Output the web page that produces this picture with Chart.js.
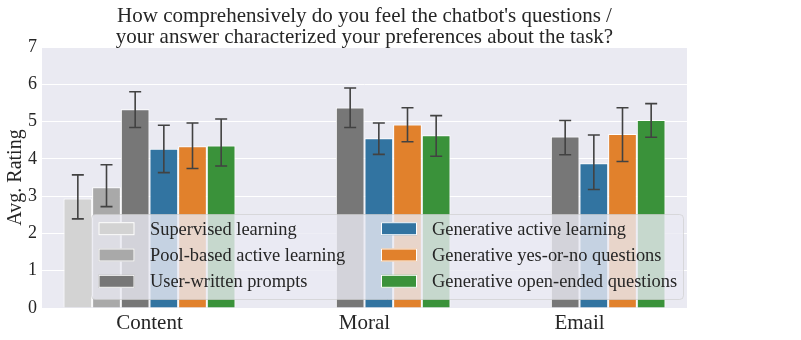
<!DOCTYPE html>
<html>
<head>
<meta charset="utf-8">
<script src="https://cdn.jsdelivr.net/npm/chart.js@4/dist/chart.umd.min.js"></script>
<style>
  html, body { margin: 0; padding: 0; background: #ffffff; }
  #wrap { width: 801px; height: 340px; position: relative; }
</style>
</head>
<body>
<div id="wrap"><canvas id="c" width="801" height="340"></canvas></div>
<script>
// ---- data ----
const categories = ['Content', 'Moral', 'Email'];
const seriesNames = ['Supervised learning', 'Pool-based active learning', 'User-written prompts',
                     'Generative active learning', 'Generative yes-or-no questions', 'Generative open-ended questions'];
const supervised   = [2.94, null, null];
const supervisedLo = [2.39, null, null];
const supervisedHi = [3.57, null, null];
const poolBased    = [3.24, null, null];
const poolBasedLo  = [2.72, null, null];
const poolBasedHi  = [3.84, null, null];
const userWritten   = [5.33, 5.38, 4.60];
const userWrittenLo = [4.84, 4.84, 4.11];
const userWrittenHi = [5.80, 5.90, 5.03];
const genActive   = [4.27, 4.55, 3.88];
const genActiveLo = [3.63, 4.12, 3.18];
const genActiveHi = [4.90, 4.96, 4.64];
const yesNo   = [4.34, 4.92, 4.67];
const yesNoLo = [3.74, 4.46, 3.93];
const yesNoHi = [4.96, 5.37, 5.37];
const openEnded   = [4.36, 4.63, 5.04];
const openEndedLo = [3.81, 4.07, 4.58];
const openEndedHi = [5.07, 5.16, 5.48];
const yTicks = [0, 1, 2, 3, 4, 5, 6, 7];
const titleLines = ["How comprehensively do you feel the chatbot's questions /",
                    "your answer characterized your preferences about the task?"];
const yTitle = 'Avg. Rating';

const colors = ['#d3d3d3', '#a9a9a9', '#777777', '#3274a1', '#e1812c', '#3a923a'];
const values = [supervised, poolBased, userWritten, genActive, yesNo, openEnded];
const lows   = [supervisedLo, poolBasedLo, userWrittenLo, genActiveLo, yesNoLo, openEndedLo];
const highs  = [supervisedHi, poolBasedHi, userWrittenHi, genActiveHi, yesNoHi, openEndedHi];

const SERIF = '"Liberation Serif", "DejaVu Serif", "Times New Roman", serif';
const TEXT = '#262626';
Chart.defaults.font.family = SERIF;
Chart.defaults.color = TEXT;

const datasets = values.map((v, i) => ({
  label: seriesNames[i],
  data: v,
  backgroundColor: colors[i],
  borderColor: '#ffffff',
  borderWidth: 1,
  categoryPercentage: 0.8,
  barPercentage: 1.0
}));

const bgPlugin = {
  id: 'bg',
  beforeDraw(chart) {
    const { ctx, chartArea: a } = chart;
    ctx.save();
    ctx.fillStyle = '#eaeaf2';
    ctx.fillRect(a.left, a.top, a.right - a.left, a.bottom - a.top);
    ctx.restore();
  }
};

const errPlugin = {
  id: 'errbars',
  afterDatasetsDraw(chart) {
    const { ctx } = chart;
    const ys = chart.scales.y;
    ctx.save();
    ctx.strokeStyle = '#424242';
    ctx.lineWidth = 1.6;
    ctx.lineCap = 'butt';
    values.forEach((v, i) => {
      const meta = chart.getDatasetMeta(i);
      v.forEach((val, j) => {
        if (val === null || lows[i][j] === null) return;
        const x = meta.data[j].x;
        const y1 = ys.getPixelForValue(lows[i][j]);
        const y2 = ys.getPixelForValue(highs[i][j]);
        const cw = 6;
        ctx.beginPath();
        ctx.moveTo(x, y1); ctx.lineTo(x, y2);
        ctx.moveTo(x - cw, y1); ctx.lineTo(x + cw, y1);
        ctx.moveTo(x - cw, y2); ctx.lineTo(x + cw, y2);
        ctx.stroke();
      });
    });
    ctx.restore();
  }
};

const overlayPlugin = {
  id: 'overlay',
  afterDraw(chart) {
    const { ctx, chartArea: a } = chart;
    ctx.save();
    // title
    ctx.fillStyle = TEXT;
    ctx.font = '21px ' + SERIF;
    ctx.textAlign = 'center';
    ctx.textBaseline = 'alphabetic';
    const cx = (a.left + a.right) / 2;
    ctx.fillText(titleLines[0], cx, 22);
    ctx.fillText(titleLines[1], cx, 43);

    // legend
    const lx = 91.5, ly = 214.5, lw = 592, lh = 85, r = 4;
    ctx.beginPath();
    ctx.moveTo(lx + r, ly);
    ctx.lineTo(lx + lw - r, ly);
    ctx.arcTo(lx + lw, ly, lx + lw, ly + r, r);
    ctx.lineTo(lx + lw, ly + lh - r);
    ctx.arcTo(lx + lw, ly + lh, lx + lw - r, ly + lh, r);
    ctx.lineTo(lx + r, ly + lh);
    ctx.arcTo(lx, ly + lh, lx, ly + lh - r, r);
    ctx.lineTo(lx, ly + r);
    ctx.arcTo(lx, ly, lx + r, ly, r);
    ctx.closePath();
    ctx.fillStyle = 'rgba(234,234,242,0.8)';
    ctx.fill();
    ctx.strokeStyle = 'rgba(204,204,204,0.8)';
    ctx.lineWidth = 0.8;
    ctx.stroke();

    const rowY = [228.7, 255, 281.3];
    const colPatchX = [98.5, 381];
    const colTextX = [150, 432];
    ctx.font = '18.4px ' + SERIF;
    ctx.textAlign = 'left';
    ctx.textBaseline = 'middle';
    seriesNames.forEach((name, i) => {
      const col = Math.floor(i / 3), row = i % 3;
      const py = rowY[row];
      ctx.fillStyle = colors[i];
      ctx.fillRect(colPatchX[col], py - 6.5, 36, 13);
      ctx.strokeStyle = '#ffffff';
      ctx.lineWidth = 1;
      ctx.strokeRect(colPatchX[col] + 0.5, py - 6, 35, 12);
      ctx.fillStyle = TEXT;
      ctx.fillText(name, colTextX[col], py + 1);
    });
    ctx.restore();
  }
};

new Chart(document.getElementById('c'), {
  type: 'bar',
  data: { labels: categories, datasets },
  options: {
    responsive: false,
    animation: false,
    devicePixelRatio: 1,
    layout: { padding: { left: 0, right: 114, top: 47, bottom: 0 } },
    plugins: { legend: { display: false }, title: { display: false }, tooltip: { enabled: false } },
    scales: {
      x: {
        offset: true,
        grid: { display: false, drawTicks: false },
        border: { display: false },
        ticks: { font: { size: 21 }, color: TEXT, padding: 3 },
        afterFit(s) { s.height = 32; }
      },
      y: {
        min: 0, max: 7,
        afterBuildTicks(s) { s.ticks = yTicks.map(v => ({ value: v })); },
        grid: { color: '#ffffff', lineWidth: 1, drawTicks: false },
        border: { display: false },
        ticks: { font: { size: 18 }, color: TEXT, padding: 5 },
        title: { display: true, text: yTitle, font: { size: 20 }, color: TEXT, padding: { top: 4, bottom: 0 } },
        afterFit(s) { s.width = 42; }
      }
    }
  },
  plugins: [bgPlugin, errPlugin, overlayPlugin]
});
</script>
</body>
</html>
